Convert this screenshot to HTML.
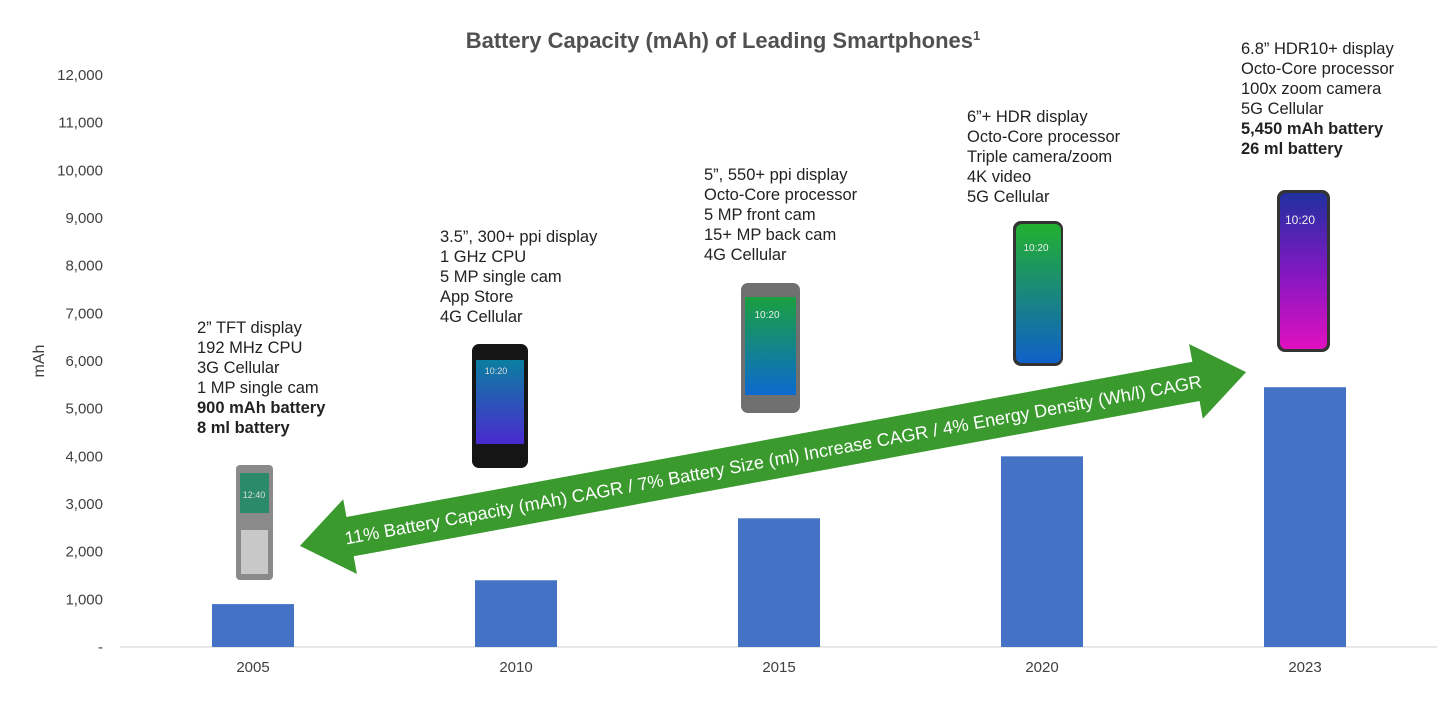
<!DOCTYPE html>
<html><head><meta charset="utf-8"><style>
body{margin:0;background:#fff;width:1456px;height:696px;overflow:hidden;font-family:"Liberation Sans",sans-serif}
svg text{font-family:"Liberation Sans",sans-serif}
</style></head><body>
<svg id="chart" width="1456" height="696" xmlns="http://www.w3.org/2000/svg">
<defs>
<linearGradient id="g10" x1="0" y1="0" x2="0" y2="1"><stop offset="0" stop-color="#0a7fa0"/><stop offset="1" stop-color="#4a2ad0"/></linearGradient>
<linearGradient id="g15" x1="0" y1="0" x2="0" y2="1"><stop offset="0" stop-color="#1aa040"/><stop offset="1" stop-color="#0c6ad0"/></linearGradient>
<linearGradient id="g20" x1="0" y1="0" x2="0" y2="1"><stop offset="0" stop-color="#22b030"/><stop offset="1" stop-color="#1060c8"/></linearGradient>
<linearGradient id="g23" x1="0" y1="0" x2="0" y2="1"><stop offset="0" stop-color="#2030a0"/><stop offset="0.5" stop-color="#8018c0"/><stop offset="1" stop-color="#e010c0"/></linearGradient>
</defs>
<text x="723" y="48" text-anchor="middle" font-size="22" font-weight="bold" fill="#505050">Battery Capacity (mAh) of Leading Smartphones<tspan font-size="13" dy="-8">1</tspan></text>
<text transform="translate(44,361) rotate(-90)" text-anchor="middle" font-size="16" fill="#404040">mAh</text>
<g id="yaxis"></g>
<line x1="120" y1="647" x2="1437" y2="647" stroke="#d0d0d0" stroke-width="1"/>
<g id="bars"></g>
<g id="xlabels"></g>
<g id="notes"></g>
<g id="phones">
<g><rect x="236" y="465" width="37" height="115" rx="4" fill="#8a8a8a"/><rect x="240" y="473" width="29" height="40" fill="#2a8a6a"/><text x="254" y="498" font-size="9" fill="#ddd" text-anchor="middle">12:40</text><rect x="241" y="530" width="27" height="44" fill="#c8c8c8"/></g>
<g><rect x="472" y="344" width="56" height="124" rx="7" fill="#151515"/><rect x="476" y="360" width="48" height="84" fill="url(#g10)"/><text x="496" y="374" font-size="9" fill="#ddd" text-anchor="middle">10:20</text></g>
<g><rect x="741" y="283" width="59" height="130" rx="7" fill="#707070"/><rect x="745" y="297" width="51" height="98" fill="url(#g15)"/><text x="767" y="318" font-size="10" fill="#eee" text-anchor="middle">10:20</text></g>
<g><rect x="1013" y="221" width="50" height="145" rx="8" fill="#333"/><rect x="1016" y="224" width="45" height="139" rx="6" fill="url(#g20)"/><text x="1036" y="251" font-size="10" fill="#eee" text-anchor="middle">10:20</text></g>
<g><rect x="1277" y="190" width="53" height="162" rx="8" fill="#333"/><rect x="1280" y="193" width="47" height="156" rx="6" fill="url(#g23)"/><text x="1300" y="224" font-size="12" fill="#eee" text-anchor="middle">10:20</text></g>
</g>
<g transform="translate(773,459) rotate(-10.4)">
<polygon points="-481,0 -430,-38 -430,-20 430,-20 430,-38 481,0 430,38 430,20 -430,20 -430,38" fill="#3a9a2e"/>
<text x="0" y="7" text-anchor="middle" font-size="18" fill="#fff">11% Battery Capacity (mAh) CAGR / 7% Battery Size (ml) Increase CAGR / 4% Energy Density (Wh/l) CAGR</text>
</g>
</svg>
<script>
const categories=["2005","2010","2015","2020","2023"];
const values=[900,1400,2700,4000,5450];
const yTicks=[0,1000,2000,3000,4000,5000,6000,7000,8000,9000,10000,11000,12000];
const yTickLabels=["-","1,000","2,000","3,000","4,000","5,000","6,000","7,000","8,000","9,000","10,000","11,000","12,000"];
const notes=[
 [["2” TFT display",0],["192 MHz CPU",0],["3G Cellular",0],["1 MP single cam",0],["900 mAh battery",1],["8 ml battery",1]],
 [["3.5”, 300+ ppi display",0],["1 GHz CPU",0],["5 MP single cam",0],["App Store",0],["4G Cellular",0]],
 [["5”, 550+ ppi display",0],["Octo-Core processor",0],["5 MP front cam",0],["15+ MP back cam",0],["4G Cellular",0]],
 [["6”+ HDR display",0],["Octo-Core processor",0],["Triple camera/zoom",0],["4K video",0],["5G Cellular",0]],
 [["6.8” HDR10+ display",0],["Octo-Core processor",0],["100x zoom camera",0],["5G Cellular",0],["5,450 mAh battery",1],["26 ml battery",1]]
];
const noteX=[197,440,704,967,1241];
const noteTop=[333,242,180,122,54];
const NS="http://www.w3.org/2000/svg";
const y=v=>647-v*(572/12000);
const x=i=>253+i*263;
const bw=82;
const gy=document.getElementById('yaxis');
yTicks.forEach((t,i)=>{const e=document.createElementNS(NS,'text');


e.setAttribute('x',103);e.setAttribute('y',y(t)+5);e.setAttribute('text-anchor','end');e.setAttribute('font-size','15');e.setAttribute('fill','#404040');e.textContent=yTickLabels[i];gy.appendChild(e);});
const gb=document.getElementById('bars'),gx=document.getElementById('xlabels'),gn=document.getElementById('notes');
categories.forEach((c,i)=>{const r=document.createElementNS(NS,'rect');


r.setAttribute('x',x(i)-bw/2);r.setAttribute('y',y(values[i]));r.setAttribute('width',bw);r.setAttribute('height',647-y(values[i]));r.setAttribute('fill','#4472c4');gb.appendChild(r);
const t=document.createElementNS(NS,'text');


t.setAttribute('x',x(i));t.setAttribute('y',672);t.setAttribute('text-anchor','middle');t.setAttribute('font-size','15');t.setAttribute('fill','#404040');t.textContent=c;gx.appendChild(t);
const g=document.createElementNS(NS,'text');


g.setAttribute('font-size','16.5');g.setAttribute('fill','#222');
notes[i].forEach((l,j)=>{const s=document.createElementNS(NS,'tspan');s.setAttribute('x',noteX[i]);s.setAttribute('y',noteTop[i]+j*20);if(l[1])s.setAttribute('font-weight','bold');s.textContent=l[0];g.appendChild(s);});
gn.appendChild(g);});
</script>
</body></html>
